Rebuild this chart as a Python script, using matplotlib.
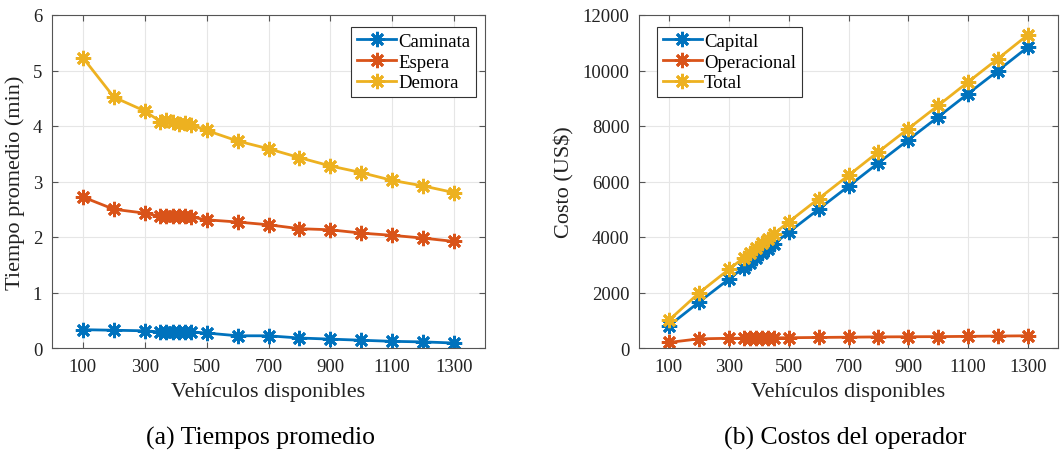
import matplotlib
matplotlib.use("Agg")
import matplotlib.pyplot as plt

plt.rcParams['font.family'] = ['Liberation Serif', 'DejaVu Serif']
plt.rcParams['mathtext.fontset'] = 'stix'

vehiculos = [100, 200, 300, 350, 370, 390, 410, 430, 450, 500, 600, 700, 800, 900, 1000, 1100, 1200, 1300]

caminata = [0.33, 0.32, 0.31, 0.29, 0.29, 0.28, 0.28, 0.29, 0.29, 0.27, 0.22, 0.22, 0.18, 0.16, 0.14, 0.12, 0.11, 0.09]
espera = [2.72, 2.50, 2.43, 2.37, 2.37, 2.38, 2.37, 2.38, 2.36, 2.31, 2.27, 2.22, 2.15, 2.13, 2.07, 2.03, 1.98, 1.92]
demora = [5.23, 4.52, 4.27, 4.08, 4.10, 4.08, 4.03, 4.05, 4.02, 3.92, 3.73, 3.59, 3.43, 3.28, 3.16, 3.02, 2.92, 2.80]

capital = [800, 1650, 2480, 2900, 3080, 3250, 3420, 3580, 3750, 4170, 5000, 5830, 6670, 7500, 8330, 9170, 10000, 10850]
operacional = [200, 330, 350, 355, 358, 360, 362, 364, 365, 370, 380, 390, 400, 405, 410, 420, 430, 440]
total = [c + o for c, o in zip(capital, operacional)]

xticks = [100, 300, 500, 700, 900, 1100, 1300]
colors = ['#0072BD', '#D95319', '#EDB120']
marker = (8, 2, 0)

fig = plt.figure(figsize=(10.64, 4.52), dpi=100)
ax1 = fig.add_axes([52/1064, 1-349/452, (485-52)/1064, (349-16)/452])
ax2 = fig.add_axes([639/1064, 1-349/452, (1058-639)/1064, (349-16)/452])

def style(ax):
    ax.set_xlim(0, 1400)
    ax.set_xticks(xticks)
    ax.grid(True, color='#e6e6e6', linewidth=0.8)
    ax.set_axisbelow(True)
    ax.tick_params(direction='in', top=True, right=True, labelsize=13.5,
                   length=4, color='#555555', pad=7, labelcolor='#222222')
    for s in ax.spines.values():
        s.set_color('#555555')
        s.set_linewidth(0.8)
    ax.set_xlabel('Vehículos disponibles', fontsize=16, color='#222222', labelpad=5)

legkw = dict(fontsize=13.5, fancybox=False, edgecolor='#333333',
             handlelength=2.1, handletextpad=0.1, borderpad=0.3, labelspacing=0.2,
             borderaxespad=0.0, framealpha=1)

kw = dict(marker=marker, markersize=11, markeredgewidth=2.0, linewidth=2.0)
ax1.plot(vehiculos, caminata, color=colors[0], label='Caminata', **kw)
ax1.plot(vehiculos, espera, color=colors[1], label='Espera', **kw)
ax1.plot(vehiculos, demora, color=colors[2], label='Demora', **kw)
style(ax1)
ax1.set_ylim(0, 6)
ax1.set_yticks(range(0, 7))
ax1.set_ylabel('Tiempo promedio (min)', fontsize=16, color='#222222', labelpad=6)
leg1 = ax1.legend(loc='upper right', bbox_to_anchor=(0.979, 0.964), **legkw)
leg1.get_frame().set_linewidth(0.8)

ax2.plot(vehiculos, capital, color=colors[0], label='Capital', **kw)
ax2.plot(vehiculos, operacional, color=colors[1], label='Operacional', **kw)
ax2.plot(vehiculos, total, color=colors[2], label='Total', **kw)
style(ax2)
ax2.set_ylim(0, 12000)
ax2.set_yticks(range(0, 12001, 2000))
ax2.set_ylabel('Costo (US$)', fontsize=16, color='#222222', labelpad=6)
leg2 = ax2.legend(loc='upper left', bbox_to_anchor=(0.043, 0.964), **legkw)
leg2.get_frame().set_linewidth(0.8)

fig.text(260/1064, 1-438/452, '(a) Tiempos promedio', fontsize=18.5, ha='center', va='center')
fig.text(845/1064, 1-438/452, '(b) Costos del operador', fontsize=18.5, ha='center', va='center')

fig.savefig('out.png', dpi=100)
